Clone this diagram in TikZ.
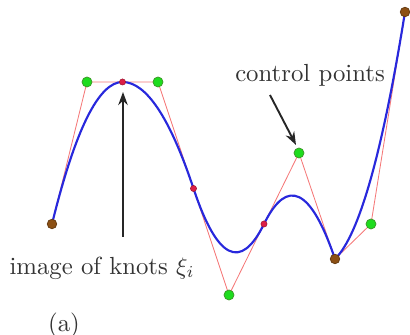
\documentclass[tikz,border=0pt]{standalone}
\usetikzlibrary{calc,arrows.meta}
\definecolor{curveblue}{RGB}{40,40,220}
\definecolor{polyred}{RGB}{245,120,120}
\definecolor{ptgreen}{RGB}{30,220,30}
\definecolor{ptgreenb}{RGB}{60,150,40}
\definecolor{knotred}{RGB}{220,30,70}
\definecolor{ptbrown}{RGB}{140,80,20}
\begin{document}
\begin{tikzpicture}[x=0.42pt,y=-0.42pt,
  ctrl/.style={circle,fill=ptgreen,draw=ptgreenb,line width=0.3pt,inner sep=0pt,minimum size=4.2pt},
  knot/.style={circle,fill=knotred,draw=knotred!70!black,line width=0.2pt,inner sep=0pt,minimum size=2.6pt},
  endpt/.style={circle,fill=ptbrown,draw=ptbrown!70!black,line width=0.3pt,inner sep=0pt,minimum size=4pt},
  poly/.style={draw=polyred,line width=0.35pt},
  spline/.style={draw=curveblue,line width=0.9pt},
  pointer/.style={draw=black!85,line width=0.8pt,-{Stealth[length=5.5pt,width=4pt]}},
  lbl/.style={font=\fontsize{10.4}{12}\selectfont,text=black!80,inner sep=0pt}]
\useasboundingbox (0,0) rectangle (410,335);
% control points and knots (positions)
\coordinate (c0) at (52,224);
\coordinate (c1) at (87,82);
\coordinate (c2) at (158,82);
\coordinate (c3) at (229,295);
\coordinate (c4) at (299,153);
\coordinate (c5) at (335,259);
\coordinate (c6) at (371,224);
\coordinate (c7) at (405,12);
\coordinate (k1) at ($(c1)!0.5!(c2)$);
\coordinate (k2) at ($(c2)!0.5!(c3)$);
\coordinate (k3) at ($(c3)!0.5!(c4)$);
% control polygon
\draw[poly] (c0) -- (c1) -- (c2) -- (c3) -- (c4) -- (c5) -- (c6) -- (c7);
% quadratic B-spline as cubic Beziers
\draw[spline] (c0)
  .. controls ($(c0)!2/3!(c1)$) and ($(k1)!2/3!(c1)$) .. (k1)
  .. controls ($(k1)!2/3!(c2)$) and ($(k2)!2/3!(c2)$) .. (k2)
  .. controls ($(k2)!2/3!(c3)$) and ($(k3)!2/3!(c3)$) .. (k3)
  .. controls ($(k3)!2/3!(c4)$) and ($(c5)!2/3!(c4)$) .. (c5)
  .. controls ($(c5)!2/3!(c6)$) and ($(c7)!2/3!(c6)$) .. (c7);
% points
\node[endpt] (p0) at (c0) {};
\node[ctrl] (p1) at (c1) {};
\node[ctrl] (p2) at (c2) {};
\node[ctrl] (p3) at (c3) {};
\node[ctrl] (p4) at (c4) {};
\node[endpt] (p5) at (c5) {};
\node[ctrl] (p6) at (c6) {};
\node[endpt] (p7) at (c7) {};
\node[knot] (q1) at (k1) {};
\node[knot] (q2) at (k2) {};
\node[knot] (q3) at (k3) {};
% labels
\node[lbl] (cp) at (310,75) {control points};
\node[lbl] (ik) at (102,268) {image of knots $\xi_i$};
\node[lbl] (a) at (64,325) {(a)};
% arrows
\coordinate (a1s) at (123,237);
\coordinate (a1e) at (123,92);
\coordinate (a2s) at (270,95);
\coordinate (a2e) at (296,145);
\draw[pointer] (a1s) -- (a1e);
\draw[pointer] (a2s) -- (a2e);
\end{tikzpicture}
\end{document}
